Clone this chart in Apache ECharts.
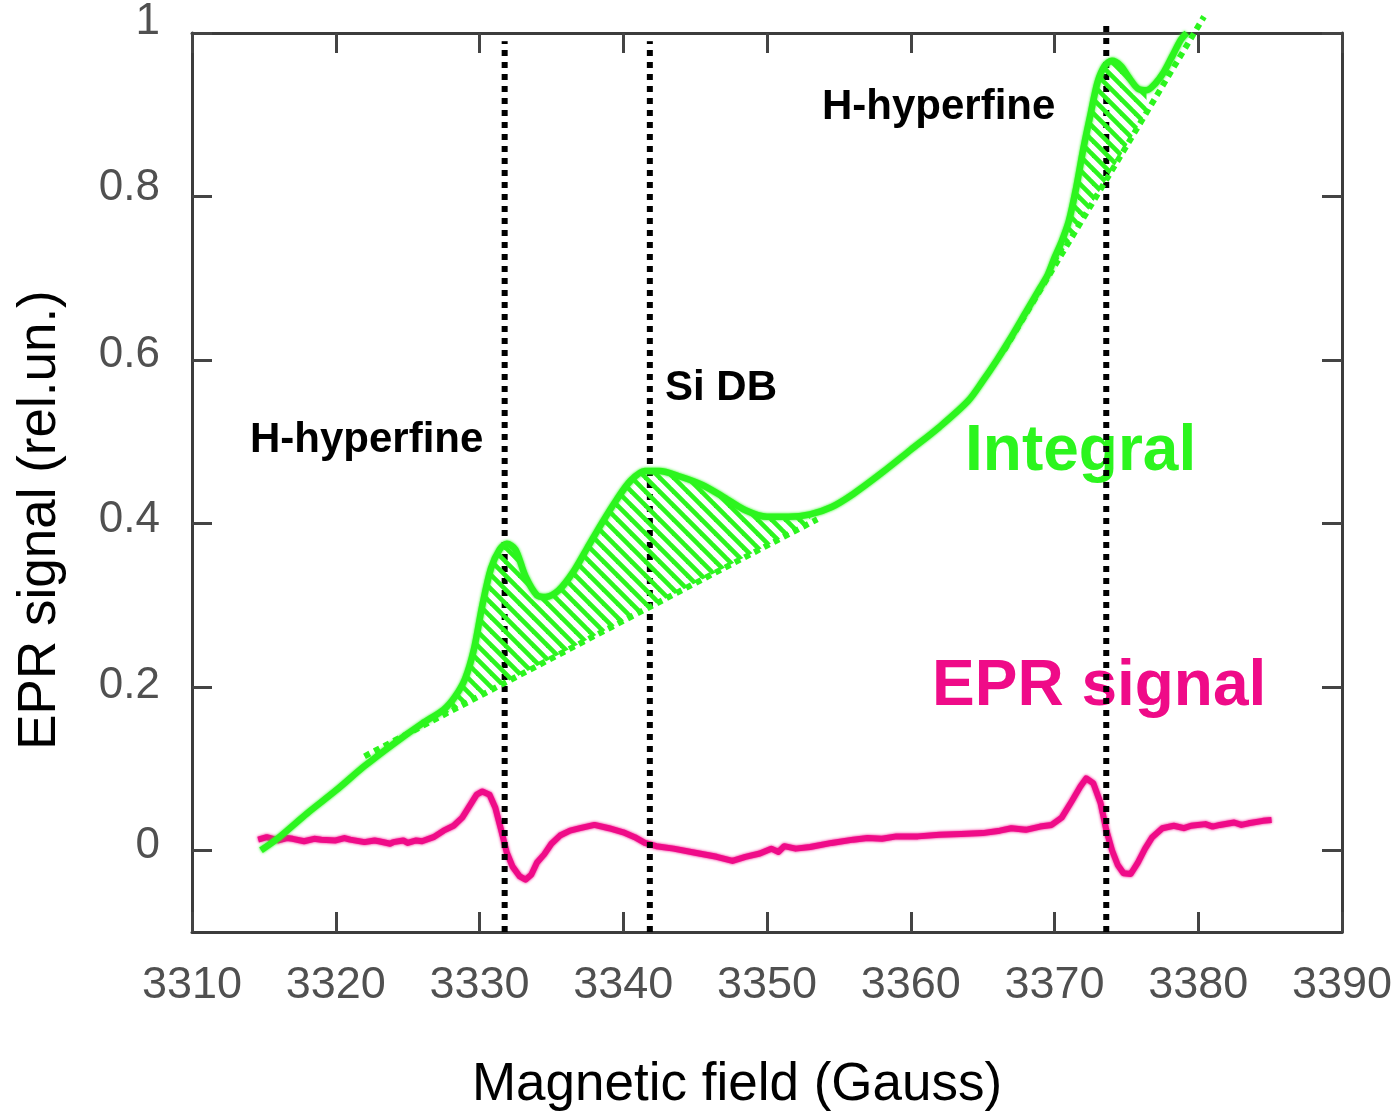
<!DOCTYPE html>
<html>
<head>
<meta charset="utf-8">
<script src="https://cdn.jsdelivr.net/npm/echarts@6/dist/echarts.min.js"></script>
<style>
  html, body { margin: 0; padding: 0; background: #ffffff; }
  #chart { width: 1396px; height: 1112px; }
</style>
</head>
<body>
<div id="chart"></div>
<script>
// Integrated EPR spectrum: magnetic field (G) and intensity (rel. units)
const integralField = [
  3314.8, 3316, 3318, 3320, 3322, 3324, 3326, 3327.5, 3328.3, 3329, 3329.6,
  3330.2, 3330.8, 3331.4, 3331.9, 3332.5, 3333.2, 3334, 3334.6, 3335.5, 3336.5,
  3337.5, 3338.5, 3339.5, 3340.5, 3341.5, 3342.5, 3344, 3345.5, 3347, 3348.5,
  3350, 3351.5, 3353, 3354.5, 3356, 3358, 3360, 3362, 3364, 3365, 3366, 3367,
  3368, 3369, 3369.5, 3370, 3370.5, 3371, 3371.5, 3372, 3372.5, 3373, 3373.5,
  3374, 3374.6, 3375.2, 3375.8, 3376.4, 3377, 3377.6, 3378.2, 3378.8, 3379.2
];
const integralValue = [
  0.0, 0.015, 0.045, 0.073, 0.103, 0.130, 0.155, 0.172, 0.188, 0.210, 0.245,
  0.300, 0.345, 0.368, 0.375, 0.368, 0.335, 0.312, 0.310, 0.318, 0.340,
  0.370, 0.400, 0.428, 0.452, 0.464, 0.464, 0.457, 0.447, 0.432, 0.416,
  0.408, 0.408, 0.411, 0.420, 0.436, 0.462, 0.490, 0.518, 0.550, 0.574, 0.600, 0.628,
  0.658, 0.688, 0.703, 0.725, 0.745, 0.770, 0.810, 0.858, 0.900, 0.940, 0.960,
  0.966, 0.960, 0.945, 0.932, 0.930, 0.938, 0.952, 0.972, 0.992, 1.0
];

// First-derivative EPR signal
const eprField = [
  3314.6, 3315.2, 3316, 3316.6, 3317, 3317.8, 3318.5, 3319, 3320, 3320.6, 3321, 3322, 3322.7,
  3323, 3323.8, 3324, 3324.7, 3325, 3325.6, 3326,
  3326.8, 3327.5, 3328.2, 3328.8, 3329.3, 3329.8, 3330.2, 3330.7, 3331.1, 3331.5,
  3331.9, 3332.3, 3332.8, 3333.2, 3333.6, 3334, 3334.5, 3335, 3335.6, 3336.3, 3337,
  3338, 3339, 3340, 3340.8, 3341.5, 3342.3, 3343.5, 3345, 3346.5, 3347.6, 3348.5,
  3349.5, 3350.3, 3350.8, 3351.2, 3352, 3353, 3354.5, 3356, 3357, 3358, 3359, 3360.5,
  3362, 3363.5, 3365, 3366.2, 3367, 3368, 3369, 3369.8, 3370.5, 3371.2, 3371.8,
  3372.2, 3372.7, 3373.2, 3373.6, 3374, 3374.4, 3374.8, 3375.3, 3375.8, 3376.3,
  3376.8, 3377.5, 3378.3, 3379, 3379.5, 3380.5, 3381, 3381.5, 3382.5, 3383, 3383.5, 3384.5, 3385.1
];
const eprValue = [
  0.013, 0.016, 0.012, 0.015, 0.014, 0.011, 0.014, 0.013, 0.012, 0.015, 0.013, 0.010, 0.012,
  0.011, 0.008, 0.010, 0.012, 0.009, 0.012, 0.011,
  0.016, 0.024, 0.030, 0.040, 0.054, 0.068, 0.072, 0.068, 0.052, 0.025,
  -0.003, -0.020, -0.032, -0.036, -0.030, -0.015, -0.005, 0.008, 0.018, 0.024, 0.027,
  0.031, 0.027, 0.022, 0.016, 0.009, 0.005, 0.002, -0.003, -0.008, -0.013, -0.008,
  -0.004, 0.002, -0.002, 0.005, 0.002, 0.004, 0.009, 0.013, 0.015, 0.014, 0.017, 0.017,
  0.019, 0.020, 0.021, 0.024, 0.027, 0.025, 0.029, 0.031, 0.040, 0.060, 0.078,
  0.088, 0.082, 0.058, 0.025, 0.0, -0.018, -0.028, -0.029, -0.015, 0.002,
  0.016, 0.027, 0.030, 0.027, 0.030, 0.032, 0.029, 0.031, 0.034, 0.031, 0.033, 0.036, 0.037
];

// Straight baselines under the two hyperfine/dangling-bond features: [field, value] end points
const baselineLow = [[3322, 0.115], [3353.5, 0.405]];
const baselineHigh = [[3366.5, 0.612], [3380.4, 1.02]];
// Field ranges whose area above the baseline is hatched
const hatchLow = [3327.5, 3353];
const hatchHigh = [3369.5, 3376.4];

// Line positions (G) and the value at which each dotted marker ends
const markerField = [3331.75, 3341.85, 3373.6];
const markerTop = [0.99, 0.99, 1.015];

// Axis ticks
const xMin = 3310, xMax = 3390, xStep = 10;
const yMin = -0.1, yMax = 1;
const yTicks = [0, 0.2, 0.4, 0.6, 0.8, 1];

const GREEN = '#2cf51e';
const MAGENTA = '#ef0b88';
const AXIS = '#3c3c3c';
const FONT = '"Liberation Sans", Arial, sans-serif';

function baseAt(line, f) {
  const [p, q] = line;
  return p[1] + (q[1] - p[1]) * (f - p[0]) / (q[0] - p[0]);
}

// Diagonal stripe fill for the hatched areas
function makeHatch() {
  const s = 14;
  const c = document.createElement('canvas');
  c.width = s; c.height = s;
  const g = c.getContext('2d');
  g.strokeStyle = GREEN;
  g.lineWidth = 4.6;
  g.lineCap = 'square';
  for (let k = -1; k <= 1; k++) {
    g.beginPath();
    g.moveTo(-2, -2 + k * s);
    g.lineTo(s + 2, s + 2 + k * s);
    g.stroke();
  }
  return { image: c, repeat: 'repeat' };
}
const hatchFill = makeHatch();

function hatchSeries(range, line) {
  return {
    type: 'custom',
    coordinateSystem: 'cartesian2d',
    silent: true,
    z: 4,
    data: [[range[0], baseAt(line, range[0])]],
    renderItem: function (params, api) {
      const pts = [];
      for (let i = 0; i < integralField.length; i++) {
        const f = integralField[i];
        if (f >= range[0] - 1e-9 && f <= range[1] + 1e-9) {
          pts.push(api.coord([f, integralValue[i]]));
        }
      }
      pts.push(api.coord([range[1], baseAt(line, range[1])]));
      pts.push(api.coord([range[0], baseAt(line, range[0])]));
      return {
        type: 'polygon',
        shape: { points: pts },
        style: { fill: hatchFill, stroke: null }
      };
    }
  };
}

function baselineSeries(line) {
  return {
    type: 'line',
    data: line,
    showSymbol: false,
    silent: true,
    clip: false,
    z: 5,
    lineStyle: { color: GREEN, width: 6, type: [6, 5], cap: 'butt' }
  };
}

const markerSeries = markerField.map((f, i) => ({
  type: 'line',
  data: [[f, yMin], [f, markerTop[i]]],
  showSymbol: false,
  silent: true,
  clip: false,
  z: 3,
  lineStyle: { color: '#000000', width: 6, type: [6, 6], cap: 'butt' }
}));

// Lift (px) of each left-axis label relative to its tick
const labelLift = { '0': 4, '0.2': 1, '0.4': 4, '0.6': 5, '0.8': 9, '1': 11 };
const labelKeys = Object.keys(labelLift);
const labelRich = {};
labelKeys.forEach((k, i) => {
  labelRich['l' + i] = {
    fontFamily: FONT, fontSize: 44, color: '#505050',
    padding: [0, 0, 2 * labelLift[k], 0]
  };
});

const tickStyle = { show: true, inside: true, length: 20, lineStyle: { color: '#444444', width: 3 } };
const lineStyleAxis = { show: true, onZero: false, lineStyle: { color: AXIS, width: 3 } };

const chart = echarts.init(document.getElementById('chart'), null, { renderer: 'canvas' });

chart.setOption({
  animation: false,
  backgroundColor: '#ffffff',
  grid: { left: 192, right: 54, top: 33, bottom: 180 },
  xAxis: [
    {
      type: 'value', position: 'bottom', min: xMin, max: xMax, interval: xStep,
      axisLine: lineStyleAxis, axisTick: tickStyle, splitLine: { show: false },
      axisLabel: {
        margin: 31, fontFamily: FONT, fontSize: 45, color: '#505050',
        formatter: function (v) { return String(v); }
      }
    },
    {
      type: 'value', position: 'top', min: xMin, max: xMax, interval: xStep,
      axisLine: lineStyleAxis, axisTick: tickStyle, splitLine: { show: false },
      axisLabel: { show: false }
    }
  ],
  yAxis: [
    {
      type: 'value', position: 'left', min: yMin, max: yMax,
      axisLine: lineStyleAxis,
      axisTick: Object.assign({ customValues: yTicks }, tickStyle),
      splitLine: { show: false },
      axisLabel: {
        customValues: yTicks,
        margin: 32,
        fontFamily: FONT, fontSize: 44, color: '#505050',
        formatter: function (v) {
          const t = String(Math.round(v * 10) / 10);
          const idx = labelKeys.indexOf(t);
          return '{l' + (idx < 0 ? 0 : idx) + '|' + t + '}';
        },
        rich: labelRich
      }
    },
    {
      type: 'value', position: 'right', min: yMin, max: yMax,
      axisLine: lineStyleAxis,
      axisTick: Object.assign({ customValues: yTicks }, tickStyle),
      splitLine: { show: false },
      axisLabel: { show: false }
    }
  ],
  graphic: [
    {
      type: 'text', x: 40, y: 520, rotation: Math.PI / 2, z: 1,
      style: { text: 'EPR signal (rel.un.)', font: '53px ' + FONT, fill: '#000000', align: 'center', verticalAlign: 'middle' }
    },
    {
      type: 'text', x: 737, y: 1085, z: 1,
      style: { text: 'Magnetic field (Gauss)', font: '53px ' + FONT, fill: '#000000', align: 'center', verticalAlign: 'middle' }
    },
    {
      type: 'text', x: 250, y: 440, z: 1,
      style: { text: 'H-hyperfine', font: 'bold 42px ' + FONT, fill: '#000000', align: 'left', verticalAlign: 'middle' }
    },
    {
      type: 'text', x: 665, y: 388, z: 1,
      style: { text: 'Si DB', font: 'bold 42px ' + FONT, fill: '#000000', align: 'left', verticalAlign: 'middle' }
    },
    {
      type: 'text', x: 822, y: 107, z: 1,
      style: { text: 'H-hyperfine', font: 'bold 42px ' + FONT, fill: '#000000', align: 'left', verticalAlign: 'middle' }
    },
    {
      type: 'text', x: 965, y: 452, z: 1,
      style: { text: 'Integral', font: 'bold 64px ' + FONT, fill: GREEN, align: 'left', verticalAlign: 'middle' }
    },
    {
      type: 'text', x: 932, y: 687, z: 1,
      style: { text: 'EPR signal', font: 'bold 64px ' + FONT, fill: MAGENTA, align: 'left', verticalAlign: 'middle' }
    }
  ],
  series: [
    {
      type: 'line',
      name: 'EPR signal',
      data: eprField.map((f, i) => [f, eprValue[i]]),
      showSymbol: false,
      silent: true,
      z: 2,
      lineStyle: { color: MAGENTA, width: 6, shadowBlur: 3, shadowColor: MAGENTA, join: 'round' }
    },
    ...markerSeries,
    hatchSeries(hatchLow, baselineLow),
    hatchSeries(hatchHigh, baselineHigh),
    baselineSeries(baselineLow),
    baselineSeries(baselineHigh),
    {
      type: 'line',
      name: 'Integral',
      data: integralField.map((f, i) => [f, integralValue[i]]),
      showSymbol: false,
      silent: true,
      smooth: 0.3,
      clip: false,
      z: 6,
      lineStyle: { color: GREEN, width: 6.5, shadowBlur: 3, shadowColor: GREEN, join: 'round' }
    }
  ]
});
</script>
</body>
</html>
